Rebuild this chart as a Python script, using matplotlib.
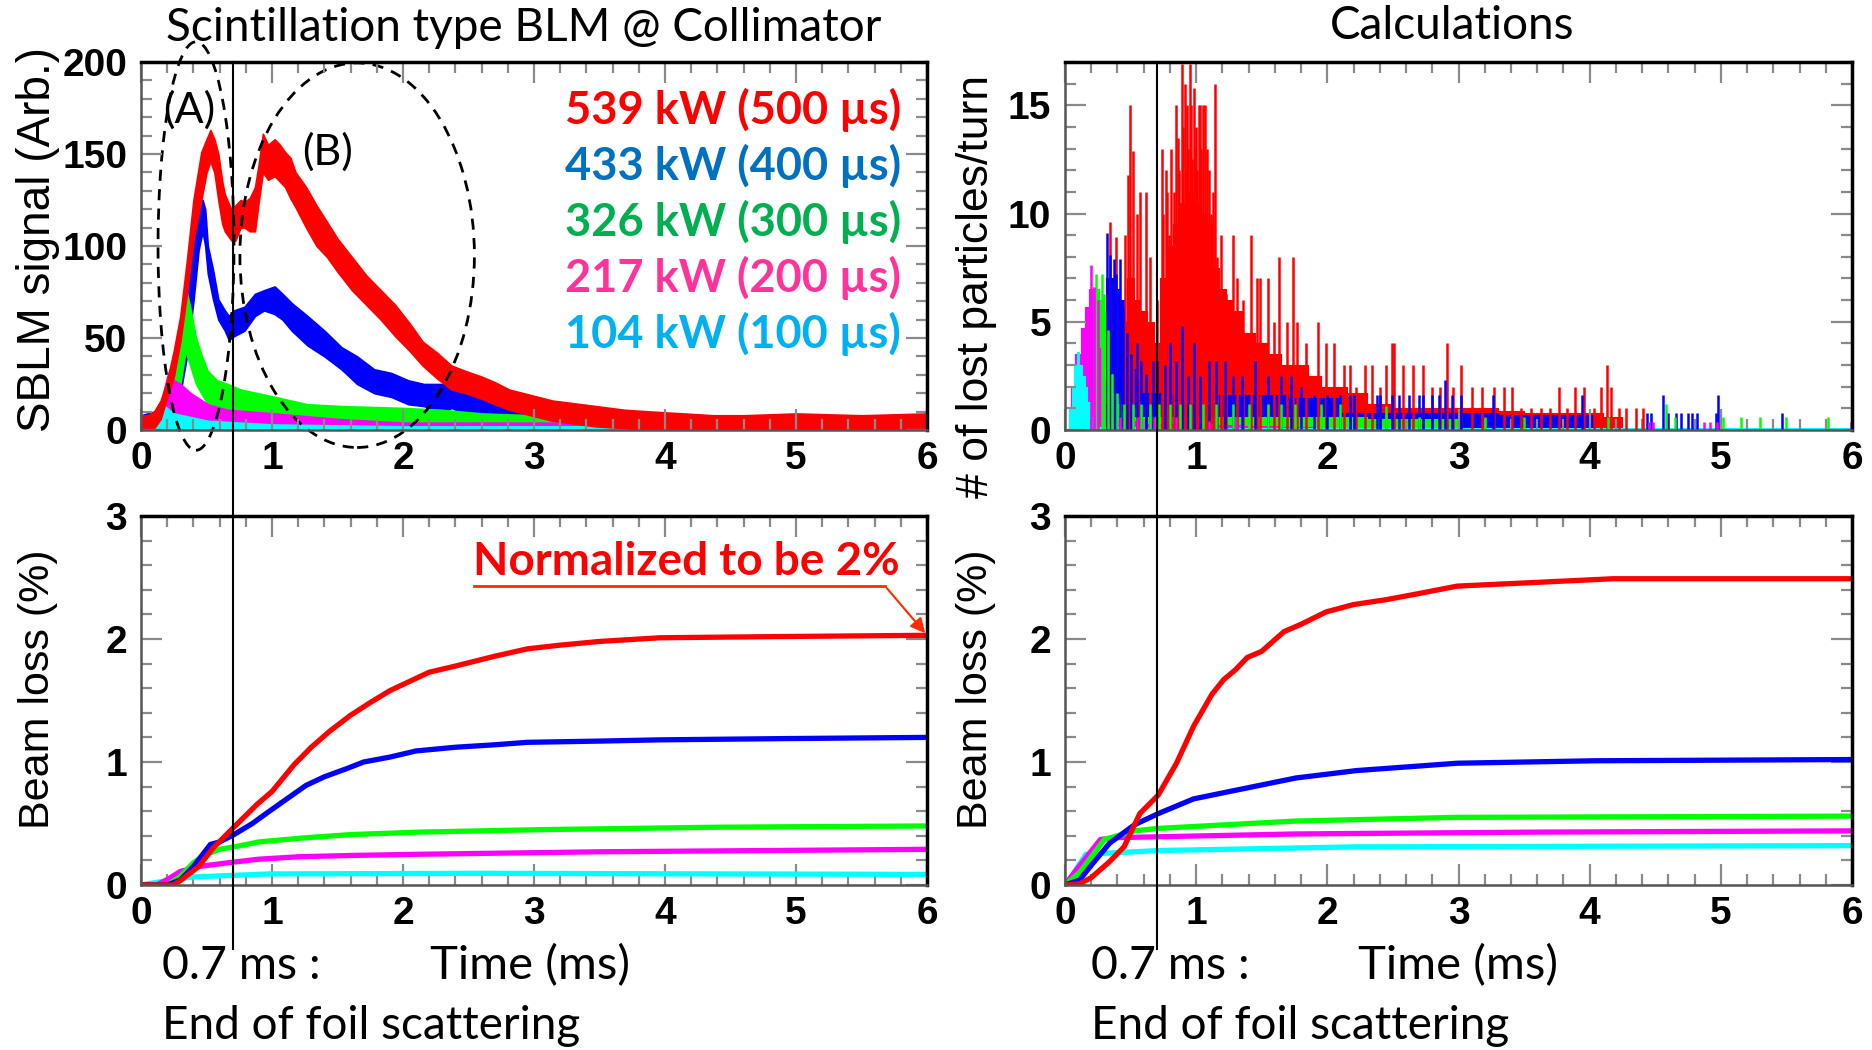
import numpy as np
import matplotlib
matplotlib.use('Agg')
import matplotlib.pyplot as plt
import matplotlib.transforms as mtransforms
from matplotlib.patches import Ellipse
from matplotlib.ticker import MultipleLocator

plt.rcParams['font.family'] = ['Liberation Sans', 'DejaVu Sans']
plt.rcParams['font.weight'] = 'bold'

# series (beam power) styling
line_colors = ['#ff0000', '#0000ff', '#00ff00', '#ff00ff', '#00ffff']
label_colors = ['#ff0000', '#0070c0', '#00b050', '#ff3399', '#00b0f0']
labels = ['539 kW (500 µs)', '433 kW (400 µs)', '326 kW (300 µs)',
          '217 kW (200 µs)', '104 kW (100 µs)']
names = ['red', 'blue', 'green', 'magenta', 'cyan']

# ---- measured SBLM signal: noisy band (lower / upper envelope) ----
sig_red_t = [0.00, 0.05, 0.10, 0.15, 0.20, 0.25, 0.30, 0.35, 0.40, 0.46, 0.50, 0.53, 0.56, 0.59, 0.62,
             0.64, 0.67, 0.69, 0.72, 0.76, 0.79, 0.83, 0.87, 0.90, 0.93, 0.97, 1.02, 1.06, 1.10, 1.14,
             1.18, 1.26, 1.34, 1.42, 1.50, 1.61, 1.72, 1.83, 1.94, 2.05, 2.15, 2.26, 2.37, 2.48, 2.60,
             2.70, 2.81, 2.92, 3.03, 3.14, 3.25, 3.47, 3.69, 3.90, 4.14, 4.37, 4.60, 5.00, 5.50, 6.00]
sig_red_hi = [8, 8, 10, 16, 27, 43, 62, 92, 125, 151, 158, 163, 158, 150, 135,
              128, 123, 120, 122, 125, 124, 126, 132, 145, 161, 155, 158, 155, 151, 148,
              140, 132, 122, 113, 104, 94, 84, 76, 68, 58, 48, 42, 35, 32, 29,
              26, 22, 20, 18, 16, 15, 13, 11, 10, 9, 8, 8, 9, 8, 9]
sig_red_lo = [0, 0, 1, 6, 18, 29, 48, 74, 103, 125, 140, 146, 140, 125, 112,
              108, 105, 103, 103, 110, 110, 108, 108, 125, 140, 136, 138, 135, 132, 126,
              121, 110, 100, 94, 86, 76, 68, 60, 51, 43, 35, 28, 22, 20, 17,
              14, 11, 9, 7, 5, 4, 2, 1, 0, 0, 0, 0, 0, 0, 0]

sig_blue_t = [0.00, 0.10, 0.20, 0.25, 0.30, 0.35, 0.40, 0.44, 0.47, 0.49, 0.51, 0.55, 0.59, 0.64,
              0.67, 0.71, 0.79, 0.87, 0.94, 1.02, 1.08, 1.15, 1.27, 1.40, 1.53, 1.65, 1.78, 1.91,
              2.04, 2.16, 2.29, 2.37, 2.60, 2.81, 3.03, 3.25, 3.50, 4.00, 4.50, 5.00, 5.50, 6.00]
sig_blue_hi = [8, 10, 15, 25, 45, 70, 100, 115, 125, 120, 100, 87, 71, 65,
               62, 65, 67, 74, 76, 78, 74, 69, 62, 54, 45, 40, 33, 31,
               27, 25, 25, 26, 20, 16, 11, 7, 6, 6, 7, 6, 7, 8]
sig_blue_lo = [0, 0, 2, 8, 20, 40, 70, 98, 108, 100, 85, 71, 60, 54,
               49, 51, 54, 62, 65, 63, 60, 54, 46, 40, 33, 25, 20, 18,
               14, 13, 9, 12, 5, 2, 1, 0, 0, 0, 0, 0, 0, 0]

sig_green_t = [0.00, 0.10, 0.20, 0.25, 0.30, 0.34, 0.38, 0.42, 0.46, 0.51, 0.58, 0.66,
               0.76, 1.02, 1.27, 1.53, 2.00, 2.29, 2.60, 3.00, 3.50, 4.00, 5.00, 6.00]
sig_green_hi = [5, 8, 12, 22, 53, 78, 65, 50, 41, 32, 27, 25, 22, 18, 14, 13, 12, 11, 9, 8, 6, 5, 6, 7]
sig_green_lo = [0, 0, 0, 7, 25, 43, 34, 25, 20, 14, 11, 7, 5, 4, 2, 1, 0, 0, 0, 0, 0, 0, 0, 0]

sig_mag_t = [0.00, 0.10, 0.15, 0.20, 0.22, 0.25, 0.30, 0.38, 0.51, 0.66, 1.02, 1.50, 2.00, 3.00, 4.00, 5.00, 6.00]
sig_mag_hi = [3, 6, 14, 29, 33, 27, 25, 20, 14, 11, 9, 6, 4, 4, 4, 5, 6]
sig_mag_lo = [0, 0, 2, 7, 8, 7, 5, 4, 2, 1, 0, 0, 0, 0, 0, 0, 0]

sig_cyan_t = [0.00, 0.10, 0.18, 0.25, 0.51, 1.00, 2.00, 4.00, 6.00]
sig_cyan_hi = [3, 7, 13, 9, 5, 3, 2, 2, 3]
sig_cyan_lo = [0, 0, 0, 0, 0, 0, 0, 0, 0]

# ---- calculated lost particles per turn: dense base level + individual spikes ----
calc_red_t = [0.40, 0.45, 0.50, 0.55, 0.60, 0.65, 0.70, 0.75, 0.80, 0.85, 0.90, 0.95, 1.00, 1.05, 1.10,
              1.15, 1.20, 1.25, 1.30, 1.40, 1.50, 1.60, 1.70, 1.80, 1.90, 2.00, 2.10, 2.20, 2.40, 2.60,
              2.80, 3.00, 3.20, 3.40, 3.60, 3.80, 4.00, 4.20, 4.30]
calc_red_v = [0, 5.0, 7.0, 6.0, 5.5, 5.0, 4.0, 7.0, 8.5, 9.5, 10.5, 11, 10.5, 10, 9.5,
              7.5, 6.5, 6.0, 5.5, 4.5, 4.0, 3.5, 3.0, 3.0, 2.5, 2.0, 2.0, 1.7, 1.2, 1.0,
              1.0, 1.0, 1.0, 0.9, 0.8, 0.8, 0.8, 0.6, 0]
spk_red_t = [0.34, 0.39, 0.46, 0.48, 0.495, 0.52, 0.55, 0.57, 0.62, 0.65, 0.70, 0.74, 0.75, 0.77, 0.78,
             0.79, 0.81, 0.83, 0.85, 0.86, 0.87, 0.88, 0.89, 0.90, 0.915, 0.92, 0.93, 0.94, 0.95, 0.96,
             0.97, 0.98, 0.99, 1.00, 1.01, 1.02, 1.03, 1.04, 1.05, 1.06, 1.07, 1.08, 1.09, 1.10, 1.11,
             1.13, 1.14, 1.16, 1.19, 1.21, 1.23, 1.28, 1.31, 1.36, 1.42, 1.46, 1.49, 1.55, 1.59, 1.63,
             1.69, 1.74, 1.77, 1.84, 1.93, 1.99, 2.05, 2.13, 2.17, 2.22, 2.29, 2.34, 2.40, 2.45, 2.49,
             2.51, 2.58, 2.65, 2.73, 2.80, 2.86, 2.91, 2.96, 3.02, 3.10, 3.18, 3.27, 3.35, 3.41, 3.48,
             3.55, 3.63, 3.70, 3.77, 3.83, 3.89, 3.96, 4.03, 4.09, 4.13, 4.16, 4.22, 4.28, 4.35, 4.41]
spk_red_v = [9.6, 8.9, 9, 11.8, 15, 12.9, 10, 11, 11, 8, 6, 13, 10, 12, 11,
             9, 13, 11, 15, 13.5, 12, 10, 16.9, 14, 16, 12, 15, 13, 16.9, 15,
             12.5, 15.8, 13, 14, 12, 15, 15, 13, 15, 10, 15, 13, 9.5, 12, 10,
             11, 16, 8, 9, 6.3, 6.3, 9, 7, 6, 9, 7, 7, 7, 5, 8,
             5, 8, 5, 4, 5, 4, 4, 3, 3, 2, 3, 3, 2, 3, 4,
             4, 3, 3, 3, 2, 2, 4, 2, 3, 2, 2, 2, 2, 2, 1,
             1, 1, 1, 2, 1, 2, 2, 1, 2, 3, 2, 1, 1, 1, 1]

calc_blue_t = [0.27, 0.30, 0.33, 0.36, 0.40, 0.44, 0.48, 0.52, 0.56, 0.60, 0.70, 0.80, 0.90, 1.00, 1.20,
               1.40, 1.60, 1.80, 2.00, 2.20, 2.40, 2.60, 2.80, 3.00, 3.20, 3.40, 3.60, 3.80, 4.00, 4.05]
calc_blue_v = [0, 3.5, 7.0, 7.0, 6.5, 6.0, 4.0, 2.8, 2.2, 1.7, 1.7, 1.6, 1.6, 1.6, 1.6,
               1.6, 1.6, 1.5, 1.5, 0.8, 0.8, 0.8, 0.8, 0.8, 0.8, 0.7, 0.7, 0.7, 0.7, 0]
spk_blue_t = [0.32, 0.34, 0.37, 0.39, 0.42, 0.44, 0.47, 0.50, 0.55, 0.58, 0.62, 0.67, 0.70, 0.76, 0.80,
              0.85, 0.89, 0.94, 0.98, 1.03, 1.10, 1.15, 1.22, 1.28, 1.35, 1.45, 1.55, 1.65, 1.72, 1.80,
              1.90, 2.00, 2.10, 2.17, 2.20, 2.38, 2.40, 2.49, 2.55, 2.62, 2.70, 2.73, 2.80, 2.85, 2.90,
              2.95, 3.02, 3.26, 3.94, 4.44, 4.47, 4.56, 4.60, 4.66, 4.70, 4.75, 4.78, 4.82, 4.96, 4.98, 5.47]
spk_blue_v = [9.1, 8.1, 7.9, 7.2, 7.9, 5.7, 4.5, 3.5, 4.0, 3.2, 2.6, 3.2, 3.2, 3.0, 4.0,
              3.2, 4.8, 2.5, 4.0, 2.5, 3.2, 3.2, 3.2, 2.5, 2.5, 3.2, 2.5, 2.5, 2.5, 2.0,
              1.6, 1.6, 1.6, 1.6, 1.6, 1.6, 1.6, 1.6, 1.6, 1.6, 1.6, 1.6, 1.6, 1.6, 2.3,
              1.6, 1.6, 1.6, 1.6, 0.8, 0.8, 1.6, 0.8, 0.8, 0.8, 0.8, 0.8, 0.8, 0.8, 1.6, 0.8]

calc_green_t = [0.17, 0.19, 0.21, 0.23, 0.25, 0.27, 0.29, 0.31, 0.33, 0.35, 0.37, 0.40, 0.45, 0.50,
                0.60, 0.80, 1.00, 1.20, 1.40, 1.60, 1.80, 2.00, 2.20, 2.40, 2.60, 2.80, 3.00, 3.05]
calc_green_v = [0, 2.0, 5.0, 6.0, 6.5, 6.0, 6.0, 5.5, 4.3, 2.6, 1.7, 1.2, 0.9, 0.6,
                0.6, 0.6, 0.6, 0.6, 0.6, 0.6, 0.6, 0.6, 0.6, 0.5, 0.5, 0.5, 0.5, 0]
spk_green_t = [0.22, 0.24, 0.28, 0.30, 0.33, 0.36, 0.40, 0.45, 0.52, 0.58, 0.65, 0.72, 0.80, 0.88, 0.95,
               1.05, 1.15, 1.28, 1.40, 1.55, 1.65, 1.75, 1.95, 2.10, 2.45, 2.70, 3.20, 3.50, 4.14, 4.58,
               4.65, 5.02, 5.15, 5.30, 5.50, 5.82]
spk_green_v = [6.6, 7.2, 7.2, 6.3, 4.6, 2.6, 1.7, 1.2, 1.2, 1.2, 1.2, 1.2, 1.2, 1.2, 1.2,
               1.2, 1.2, 1.2, 1.2, 1.2, 1.2, 1.2, 1.2, 1.2, 1.1, 0.6, 0.6, 0.6, 0.6, 1.2,
               0.6, 0.6, 0.6, 0.6, 0.6, 0.6]

calc_mag_t = [0.03, 0.06, 0.10, 0.14, 0.17, 0.20, 0.22, 0.24, 0.27, 0.29, 0.32, 0.35, 0.40, 0.50,
              0.70, 0.90, 1.20, 1.50, 1.80, 2.00]
calc_mag_v = [0, 2.0, 3.5, 4.7, 5.7, 6.5, 6.0, 5.5, 3.8, 2.3, 1.2, 0.7, 0.5, 0.4,
              0.3, 0.3, 0.25, 0.2, 0.15, 0]
spk_mag_t = [0.20, 0.22, 0.25, 0.42, 0.55, 0.68, 0.85, 1.10, 1.30, 4.45, 4.48, 4.87, 4.92, 4.97, 5.99]
spk_mag_v = [7.6, 6.6, 6.0, 0.6, 0.6, 0.6, 0.6, 0.4, 0.6, 0.35, 0.35, 0.35, 0.35, 0.35, 0.35]

calc_cyan_t = [0.02, 0.04, 0.06, 0.08, 0.10, 0.12, 0.14, 0.16, 0.18, 0.20, 0.22, 0.25, 0.40, 0.80,
               1.20, 2.00, 3.00, 6.00]
calc_cyan_v = [0, 1.0, 2.0, 3.0, 3.6, 3.0, 2.5, 2.0, 1.3, 0.6, 0.3, 0.15, 0.15, 0.1,
               0.1, 0.1, 0.1, 0.1]

# ---- integrated beam loss (%) ----
meas_t = {
    'red': [0.0, 0.25, 0.30, 0.44, 0.55, 0.69, 0.89, 1.00, 1.17, 1.30, 1.44, 1.60, 1.76, 1.90, 2.04,
            2.20, 2.40, 2.70, 2.95, 3.20, 3.50, 3.96, 4.88, 6.00],
    'blue': [0.0, 0.20, 0.30, 0.40, 0.53, 0.60, 0.71, 0.85, 0.98, 1.10, 1.26, 1.40, 1.58, 1.70, 1.90,
             2.10, 2.40, 2.70, 2.95, 3.50, 3.96, 4.88, 6.00],
    'green': [0.0, 0.20, 0.30, 0.40, 0.48, 0.60, 0.76, 0.90, 1.21, 1.60, 2.13, 3.05, 4.42, 6.00],
    'magenta': [0.0, 0.12, 0.21, 0.30, 0.44, 0.66, 0.90, 1.21, 1.60, 2.13, 3.50, 6.00],
    'cyan': [0.0, 0.11, 0.39, 0.98, 2.59, 6.00],
}
meas_loss = {
    'red': [0.0, 0.0, 0.035, 0.15, 0.30, 0.45, 0.66, 0.76, 0.98, 1.12, 1.25, 1.38, 1.49, 1.58, 1.65,
            1.73, 1.78, 1.86, 1.92, 1.95, 1.98, 2.01, 2.02, 2.03],
    'blue': [0.0, 0.0, 0.04, 0.15, 0.33, 0.35, 0.41, 0.50, 0.60, 0.69, 0.81, 0.88, 0.95, 1.00, 1.04,
             1.09, 1.12, 1.14, 1.16, 1.17, 1.18, 1.19, 1.20],
    'green': [0.0, 0.0, 0.07, 0.18, 0.24, 0.29, 0.32, 0.35, 0.38, 0.41, 0.43, 0.45, 0.47, 0.48],
    'magenta': [0.0, 0.0, 0.05, 0.11, 0.15, 0.18, 0.21, 0.23, 0.24, 0.25, 0.27, 0.29],
    'cyan': [0.0, 0.02, 0.065, 0.09, 0.095, 0.086],
}
calc_loss_t = {
    'red': [0.0, 0.11, 0.20, 0.34, 0.45, 0.57, 0.71, 0.85, 0.98, 1.05, 1.12, 1.21, 1.30, 1.39, 1.50,
            1.67, 1.80, 1.99, 2.20, 2.45, 2.70, 2.99, 3.59, 4.18, 6.00],
    'blue': [0.0, 0.11, 0.20, 0.34, 0.53, 0.71, 0.98, 1.30, 1.76, 2.22, 2.99, 4.04, 6.00],
    'green': [0.0, 0.11, 0.30, 0.53, 0.71, 1.76, 2.99, 6.00],
    'magenta': [0.0, 0.07, 0.27, 0.39, 1.76, 3.59, 6.00],
    'cyan': [0.0, 0.05, 0.16, 0.71, 2.22, 6.00],
}
calc_loss = {
    'red': [0.0, 0.01, 0.06, 0.19, 0.31, 0.58, 0.73, 0.99, 1.29, 1.42, 1.55, 1.67, 1.75, 1.85, 1.90,
            2.06, 2.12, 2.22, 2.28, 2.32, 2.37, 2.43, 2.46, 2.49, 2.49],
    'blue': [0.0, 0.04, 0.16, 0.34, 0.49, 0.58, 0.70, 0.77, 0.87, 0.93, 0.99, 1.01, 1.02],
    'green': [0.0, 0.10, 0.37, 0.44, 0.46, 0.52, 0.55, 0.56],
    'magenta': [0.0, 0.10, 0.37, 0.385, 0.415, 0.43, 0.44],
    'cyan': [0.0, 0.07, 0.25, 0.28, 0.31, 0.32],
}

tick_family = ['Liberation Sans', 'DejaVu Sans']
label_font = dict(family=['Liberation Sans', 'DejaVu Sans'], weight='normal')
cal_font = ['Lato', 'DejaVu Sans']

W, H = 1872, 1050
fig = plt.figure(figsize=(W / 100, H / 100), dpi=100)


def px_axes(x0, y0, x1, y1):
    return fig.add_axes([x0 / W, 1 - y1 / H, (x1 - x0) / W, (y1 - y0) / H])


ax_tl = px_axes(141, 62, 927, 430)
ax_tr = px_axes(1065, 62, 1852, 430)
ax_bl = px_axes(141, 516, 927, 885)
ax_br = px_axes(1065, 516, 1852, 885)


def style(ax, ymax, ymaj, ymin):
    ax.set_xlim(0, 6)
    ax.set_ylim(0, ymax)
    ax.xaxis.set_major_locator(MultipleLocator(1))
    ax.xaxis.set_minor_locator(MultipleLocator(0.2))
    ax.yaxis.set_major_locator(MultipleLocator(ymaj))
    ax.yaxis.set_minor_locator(MultipleLocator(ymin))
    ax.tick_params(which='both', direction='in', top=True, right=True,
                   color='#8a8a8a', width=1.6)
    ax.tick_params(which='major', length=15)
    ax.tick_params(which='minor', length=8)
    ax.tick_params(axis='x', pad=8)
    ax.tick_params(axis='y', pad=10)
    for lab in ax.get_xticklabels() + ax.get_yticklabels():
        lab.set_fontfamily(tick_family)
        lab.set_fontweight('bold')
        lab.set_fontsize(28)
    for side in ['top', 'right']:
        ax.spines[side].set_color('black')
        ax.spines[side].set_linewidth(2.5)
    for side in ['left', 'bottom']:
        ax.spines[side].set_color('#555555')
        ax.spines[side].set_linewidth(1.8)


# top left: measured SBLM signal (red drawn last, on top)
bands = [(sig_blue_t, sig_blue_lo, sig_blue_hi, 'blue'),
         (sig_green_t, sig_green_lo, sig_green_hi, 'green'),
         (sig_mag_t, sig_mag_lo, sig_mag_hi, 'magenta'),
         (sig_cyan_t, sig_cyan_lo, sig_cyan_hi, 'cyan'),
         (sig_red_t, sig_red_lo, sig_red_hi, 'red')]
for t, lo, hi, nm in bands:
    c = line_colors[names.index(nm)]
    ax_tl.fill_between(t, lo, hi, color=c, lw=1.2, edgecolor=c)
style(ax_tl, 200, 50, 10)

ax_tl.add_patch(Ellipse((0.42, 100), 0.58, 222, fill=False, ls=(0, (4, 3)), lw=2,
                        color='black', clip_on=False))
ax_tl.add_patch(Ellipse((1.65, 95), 1.79, 209, fill=False, ls=(0, (4, 3)), lw=2,
                        color='black', clip_on=False))
ax_tl.text(0.37, 174, '(A)', fontsize=31, family=cal_font, weight='normal', ha='center', va='center')
ax_tl.text(1.42, 151, '(B)', fontsize=31, family=cal_font, weight='normal', ha='center', va='center')
for i, (lab, col) in enumerate(zip(labels, label_colors)):
    ax_tl.text(5.8, 174 - i * 30.4, lab, color=col, fontsize=32.5, family=cal_font,
               weight='bold', ha='right', va='center')

# top right: calculated lost particles per turn
hist = [(calc_red_t, calc_red_v, spk_red_t, spk_red_v, 'red'),
        (calc_blue_t, calc_blue_v, spk_blue_t, spk_blue_v, 'blue'),
        (calc_green_t, calc_green_v, spk_green_t, spk_green_v, 'green'),
        (calc_mag_t, calc_mag_v, spk_mag_t, spk_mag_v, 'magenta'),
        (calc_cyan_t, calc_cyan_v, [], [], 'cyan')]
for t, v, st, sv, nm in hist:
    c = line_colors[names.index(nm)]
    ax_tr.fill_between(t, 0, v, step='mid', color=c, lw=0.8, edgecolor=c)
    if st:
        ax_tr.vlines(st, 0, sv, color=c, lw=1.8)
style(ax_tr, 17, 5, 1)

# bottom: integrated beam loss
for nm in ['cyan', 'magenta', 'green', 'blue', 'red']:
    c = line_colors[names.index(nm)]
    ax_bl.plot(meas_t[nm], meas_loss[nm], color=c, lw=3.8, solid_joinstyle='round')
    ax_br.plot(calc_loss_t[nm], calc_loss[nm], color=c, lw=3.8, solid_joinstyle='round')
style(ax_bl, 3, 1, 0.2)
style(ax_br, 3, 1, 0.2)

ax_bl.text(5.79, 2.63, 'Normalized to be 2%', color='#ff0000', fontsize=33, family=cal_font,
           weight='bold', ha='right', va='center')
ax_bl.plot([2.54, 5.68], [2.43, 2.43], color='#ff2a00', lw=2, clip_on=False)
ax_bl.annotate('', xy=(6.0, 2.03), xytext=(5.68, 2.43),
               arrowprops=dict(arrowstyle='-|>', color='#ff2a00', lw=1.5, mutation_scale=22))

# y axis titles
fig.text(38 / W, 1 - 240 / H, 'SBLM signal (Arb.)', rotation=90, ha='center', va='center',
         fontsize=33, **label_font)
fig.text(976 / W, 1 - 286 / H, '# of lost particles/turn', rotation=90, ha='center', va='center',
         fontsize=32, **label_font)
fig.text(38 / W, 1 - 689 / H, 'Beam loss (%)', rotation=90, ha='center', va='center',
         fontsize=31, **label_font)
fig.text(976 / W, 1 - 689 / H, 'Beam loss (%)', rotation=90, ha='center', va='center',
         fontsize=31, **label_font)

# titles
fig.text(524 / W, 1 - 28 / H, 'Scintillation type BLM @ Collimator', ha='center', va='center',
         fontsize=33, family=cal_font, weight='normal')
fig.text(1452 / W, 1 - 26 / H, 'Calculations', ha='center', va='center',
         fontsize=33, family=cal_font, weight='normal')

# 0.7 ms marker lines and notes
for ax_top, xl, xt in [(ax_tl, 162, 430), (ax_tr, 1091, 1358)]:
    trans = mtransforms.blended_transform_factory(ax_top.transData, fig.transFigure)
    fig.add_artist(plt.Line2D([0.7, 0.7], [1 - 62 / H, 1 - 949 / H], transform=trans,
                              color='black', lw=1.5))
    fig.text(xl / W, 1 - 966 / H, '0.7 ms :', ha='left', va='center', fontsize=33.5,
             family=cal_font, weight='normal')
    fig.text(xt / W, 1 - 966 / H, 'Time (ms)', ha='left', va='center', fontsize=34,
             family=cal_font, weight='normal')
    fig.text(xl / W, 1 - 1026 / H, 'End of foil scattering', ha='left', va='center', fontsize=33,
             family=cal_font, weight='normal')

fig.savefig('out.png', dpi=100, facecolor='white')
